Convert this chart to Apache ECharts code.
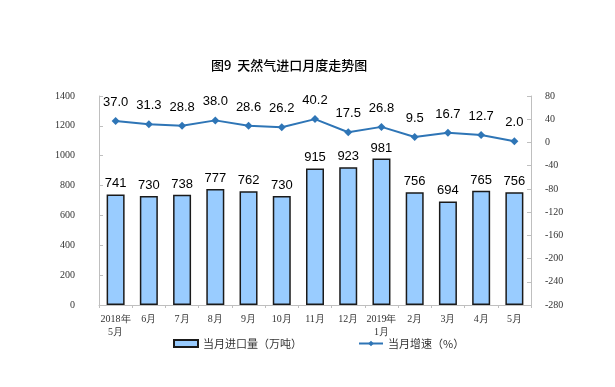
<!DOCTYPE html>
<html><head><meta charset="utf-8">
<script src="https://cdn.jsdelivr.net/npm/echarts@6/dist/echarts.min.js"></script>
<style>html,body{margin:0;padding:0;background:#fff}#c{width:615px;height:387px}</style>
</head><body><div id="c"></div>
<script>
const categories = ['2018年\n5月','6月','7月','8月','9月','10月','11月','12月','2019年\n1月','2月','3月','4月','5月'];
const importVolume = [741,730,738,777,762,730,915,923,981,756,694,765,756];
const growthRate = [37.0,31.3,28.8,38.0,28.6,26.2,40.2,17.5,26.8,9.5,16.7,12.7,2.0];
const leftTicks = {min:0,max:1400,interval:200};
const rightTicks = {min:-280,max:80,interval:40};
const chart = echarts.init(document.getElementById('c'));
const serif = 'Liberation Serif, Times New Roman, serif';
chart.setOption({
  animation:false,
  title:{text:'图9  天然气进口月度走势图',left:206,top:54,textStyle:{fontSize:13,fontWeight:500,color:'#000',fontFamily:'Noto Sans CJK SC'}},
  grid:{left:99,right:84,top:96,bottom:82},
  legend:{bottom:33,left:168,itemGap:56,itemWidth:24,itemHeight:7,textStyle:{fontSize:11,color:'#333',fontFamily:'Noto Sans CJK SC'},
    data:[{name:'当月进口量（万吨）',icon:'rect'},{name:'当月增速（%）'}]},
  xAxis:{type:'category',data:categories,axisLine:{lineStyle:{color:'#bfbfbf'}},axisTick:{show:true,lineStyle:{color:'#bfbfbf'},length:3},
    axisLabel:{color:'#333',fontSize:10,fontFamily:serif,lineHeight:13,interval:0}},
  yAxis:[
    {type:'value',min:leftTicks.min,max:leftTicks.max,interval:leftTicks.interval,splitLine:{show:false},
     axisLine:{show:true,lineStyle:{color:'#bfbfbf'}},axisTick:{show:true,inside:true,length:4,lineStyle:{color:'#bfbfbf'}},
     axisLabel:{color:'#333',fontSize:10,fontFamily:serif,margin:24,formatter:v=>String(v)}},
    {type:'value',min:rightTicks.min,max:rightTicks.max,interval:rightTicks.interval,splitLine:{show:false},
     axisLine:{show:true,lineStyle:{color:'#bfbfbf'}},axisTick:{show:true,inside:true,length:4,lineStyle:{color:'#bfbfbf'}},
     axisLabel:{color:'#333',fontSize:10,fontFamily:serif,margin:14,formatter:v=>String(v)}}
  ],
  series:[
    {name:'当月进口量（万吨）',type:'bar',data:importVolume,barWidth:18,
     itemStyle:{color:'#99ccff',borderColor:'#1a1a1a',borderWidth:1.5},
     label:{show:true,position:'top',distance:4,color:'#000',fontSize:13,fontFamily:'Liberation Sans, Arial'}},
    {name:'当月增速（%）',type:'line',yAxisIndex:1,data:growthRate,symbol:'diamond',symbolSize:8,
     lineStyle:{color:'#2e75b6',width:2},itemStyle:{color:'#2e75b6'},
     label:{show:true,position:'top',distance:8,color:'#000',fontSize:13,fontFamily:'Liberation Sans, Arial',formatter:p=>p.value.toFixed(1)}}
  ]
});
</script></body></html>
